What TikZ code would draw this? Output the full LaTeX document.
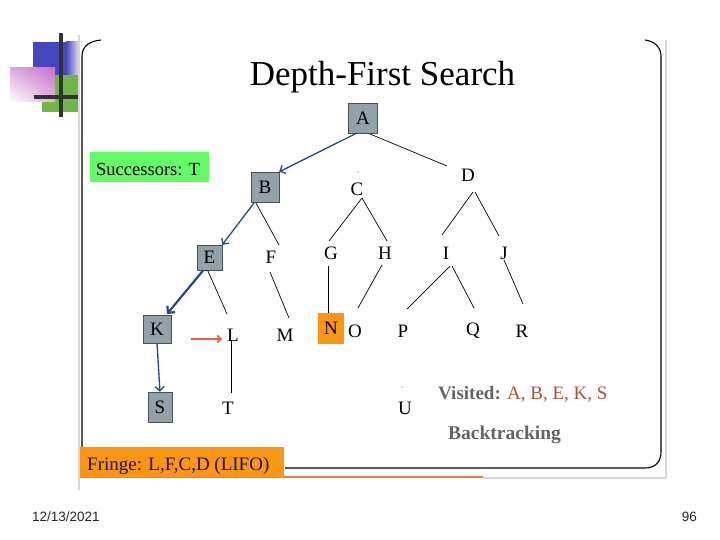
\documentclass[tikz,border=0pt]{standalone}
\usepackage{fontspec}
\setmainfont{Liberation Serif}
\newfontfamily\footfont{Liberation Sans}
\usetikzlibrary{calc,arrows.meta,shadings}
\definecolor{boxgray}{RGB}{146,162,168}
\definecolor{boxedge}{RGB}{70,80,85}
\definecolor{arrblue}{RGB}{40,70,140}
\definecolor{succgreen}{RGB}{102,250,102}
\definecolor{fringeor}{RGB}{250,150,20}
\definecolor{visred}{RGB}{175,80,50}
\definecolor{txtgray}{RGB}{100,100,100}
\definecolor{logoblue}{RGB}{70,70,190}
\definecolor{logogreen}{RGB}{110,185,70}
\definecolor{logopink}{RGB}{200,115,200}
\definecolor{linegray}{RGB}{215,215,215}
\definecolor{orline}{RGB}{230,130,60}
\definecolor{orarrow}{RGB}{225,100,60}
\tikzset{
  every node/.style={inner sep=0pt, font=\fontsize{19}{19}\selectfont},
  vbox/.style={draw=boxedge, fill=boxgray, minimum width=29pt, minimum height=30pt},
  tedge/.style={black, line width=0.7pt},
  barrow/.style={arrblue, line width=1.3pt, -{Straight Barb[length=4.5pt,width=9pt]}},
  frame/.style={black, line width=1.1pt},
}
\begin{document}
\begin{tikzpicture}[x=1pt,y=-1pt]
\useasboundingbox (0,0) rectangle (720,540);
% logo
\fill[logoblue] (33,42) rectangle (66,88);
\shade[left color=logoblue, right color=logoblue!15!white] (66,42) rectangle (79,88);
\fill[logogreen] (42,75) rectangle (78,112);
\shade[upper right=logopink, upper left=logopink!60!white, lower right=logopink!55!white, lower left=white] (10,68) rectangle (55,102);
\draw[black!80, line width=3.5pt] (61,33) -- (61,117);
\draw[black!80, line width=3.5pt] (34,97) -- (78,97);
% gray side/bottom lines
\draw[linegray, line width=1.5pt] (79,35) -- (79,490);
\draw[linegray, line width=1.5pt] (666,40) -- (666,478);
\draw[linegray, line width=1.5pt] (483,478) -- (666,478);
\draw[orline, line width=2pt] (80,477) -- (483,477);
% frame
\draw[frame] (82,447) -- (82,56) .. controls (82,46) and (90,41) .. (101,40);
\draw[frame] (645,40) .. controls (654,41) and (661,47) .. (661,56) -- (661,452) .. controls (661,462) and (655,468) .. (645,468) -- (285,468);
% title
\node[anchor=base, font=\fontsize{35}{35}\selectfont] (title) at (382.5,86) {Depth-First Search};
% successors
\node[fill=succgreen, minimum width=119pt, minimum height=30pt] (succ) at (149,167.5) {};
\node[anchor=base west, font=\fontsize{18.5}{18.5}\selectfont] (succt) at (96,176) {Successors: T};
% tree nodes
\node[vbox] (A) at (363,118) {A};
\node[vbox, minimum width=28pt] (B) at (265,187) {B};
\node (C) at (357,189) {C};
\node (D) at (468,175) {D};
\node[vbox, minimum width=25pt, minimum height=25pt] (E) at (209.5,257.5) {E};
\node (F) at (271,257) {F};
\node (G) at (331,253) {G};
\node (H) at (385,253) {H};
\node (I) at (446,253) {I};
\node (J) at (504,253) {J};
\node[vbox, minimum width=28pt, minimum height=28pt] (K) at (157,329) {K};
\node (L) at (233,335) {L};
\node (M) at (285,335) {M};
\node[fill=fringeor, minimum width=26pt, minimum height=31pt] (N) at (331,328.5) {N};
\node (O) at (355,331) {O};
\node (P) at (403,331) {P};
\node (Q) at (473,331) {Q};
\node (R) at (522,331) {R};
\node[vbox, minimum width=24pt, minimum height=30pt] (S) at (160,407) {S};
\node (T) at (228,408) {T};
\node (U) at (405,408) {U};
\fill[black!60] ($(C)+(1,-17)$) circle (0.7);
\fill[black!60] ($(U)+(-3,-21)$) circle (0.7);
% edges
\draw[barrow] ($(A)+(-6,15)$) -- (B.north east);
\draw[tedge] ($(A)+(7,16)$) -- ($(D)+(-21,-9)$);
\draw[barrow] ($(B)+(-11,16)$) -- (E.north east);
\draw[tedge] ($(B)+(-9,16)$) -- ($(F)+(8,-12)$);
\draw[tedge] ($(C)+(5,9)$) -- ($(G)+(-2,-12)$);
\draw[tedge] ($(C)+(5,9)$) -- ($(H)+(2,-12)$);
\draw[tedge] ($(D)+(5,17)$) -- ($(I)+(-4,-18)$);
\draw[tedge] ($(D)+(7,17)$) -- ($(J)+(-5,-17)$);
\draw[arrblue, line width=2.2pt, -{Straight Barb[length=5pt,width=10pt]}] ($(E)+(-6,12.5)$) -- ($(K)+(10,-15)$);
\draw[tedge] ($(E)+(-2,12.5)$) -- ($(L)+(-6,-21)$);
\draw[tedge] ($(F)+(-1,15)$) -- ($(M)+(4,-17)$);
\draw[tedge] ($(G)+(-3,13)$) -- ($(N.north)+(-3,0)$);
\draw[tedge] ($(H)+(-3,12)$) -- ($(O)+(3,-23)$);
\draw[tedge] ($(I)+(4,13)$) -- ($(P)+(4,-22)$);
\draw[tedge] ($(I)+(6,13)$) -- ($(Q)+(1,-23)$);
\draw[tedge] ($(J)+(0,7)$) -- ($(R)+(1,-27)$);
\draw[barrow] (K.south) -- (S.north);
\draw[tedge] ($(L)+(-2,5)$) -- ($(T)+(3,-15)$);
\draw[orarrow, line width=1.6pt, -{Straight Barb[length=3.5pt,width=7pt]}] ($(L)+(-42,4)$) -- ($(L)+(-11,4)$);
% visited / backtracking
\node[anchor=base west, font=\fontsize{19}{19}\selectfont] (vis) at (438,399) {\textcolor{txtgray}{\textbf{Visited:}} \textcolor{visred}{A, B, E, K, S}};
\node[anchor=base west, text=txtgray, font=\fontsize{19.5}{20}\selectfont\bfseries] (back) at (448,439) {Backtracking};
% fringe
\node[fill=fringeor, minimum width=204pt, minimum height=30pt] (fr) at (182,461.5) {};
\node[anchor=base west, text=black!85!brown, font=\fontsize{19}{19}\selectfont] (frt) at (87,470) {Fringe: L,F,C,D (LIFO)};
% footer
\node[anchor=base west, font=\footfont\fontsize{13.5}{13.5}\selectfont, text=black!85] (date) at (32,521) {12/13/2021};
\node[anchor=base east, font=\footfont\fontsize{13.5}{13.5}\selectfont, text=black!85] (pg) at (697,521) {96};
\end{tikzpicture}
\end{document}
